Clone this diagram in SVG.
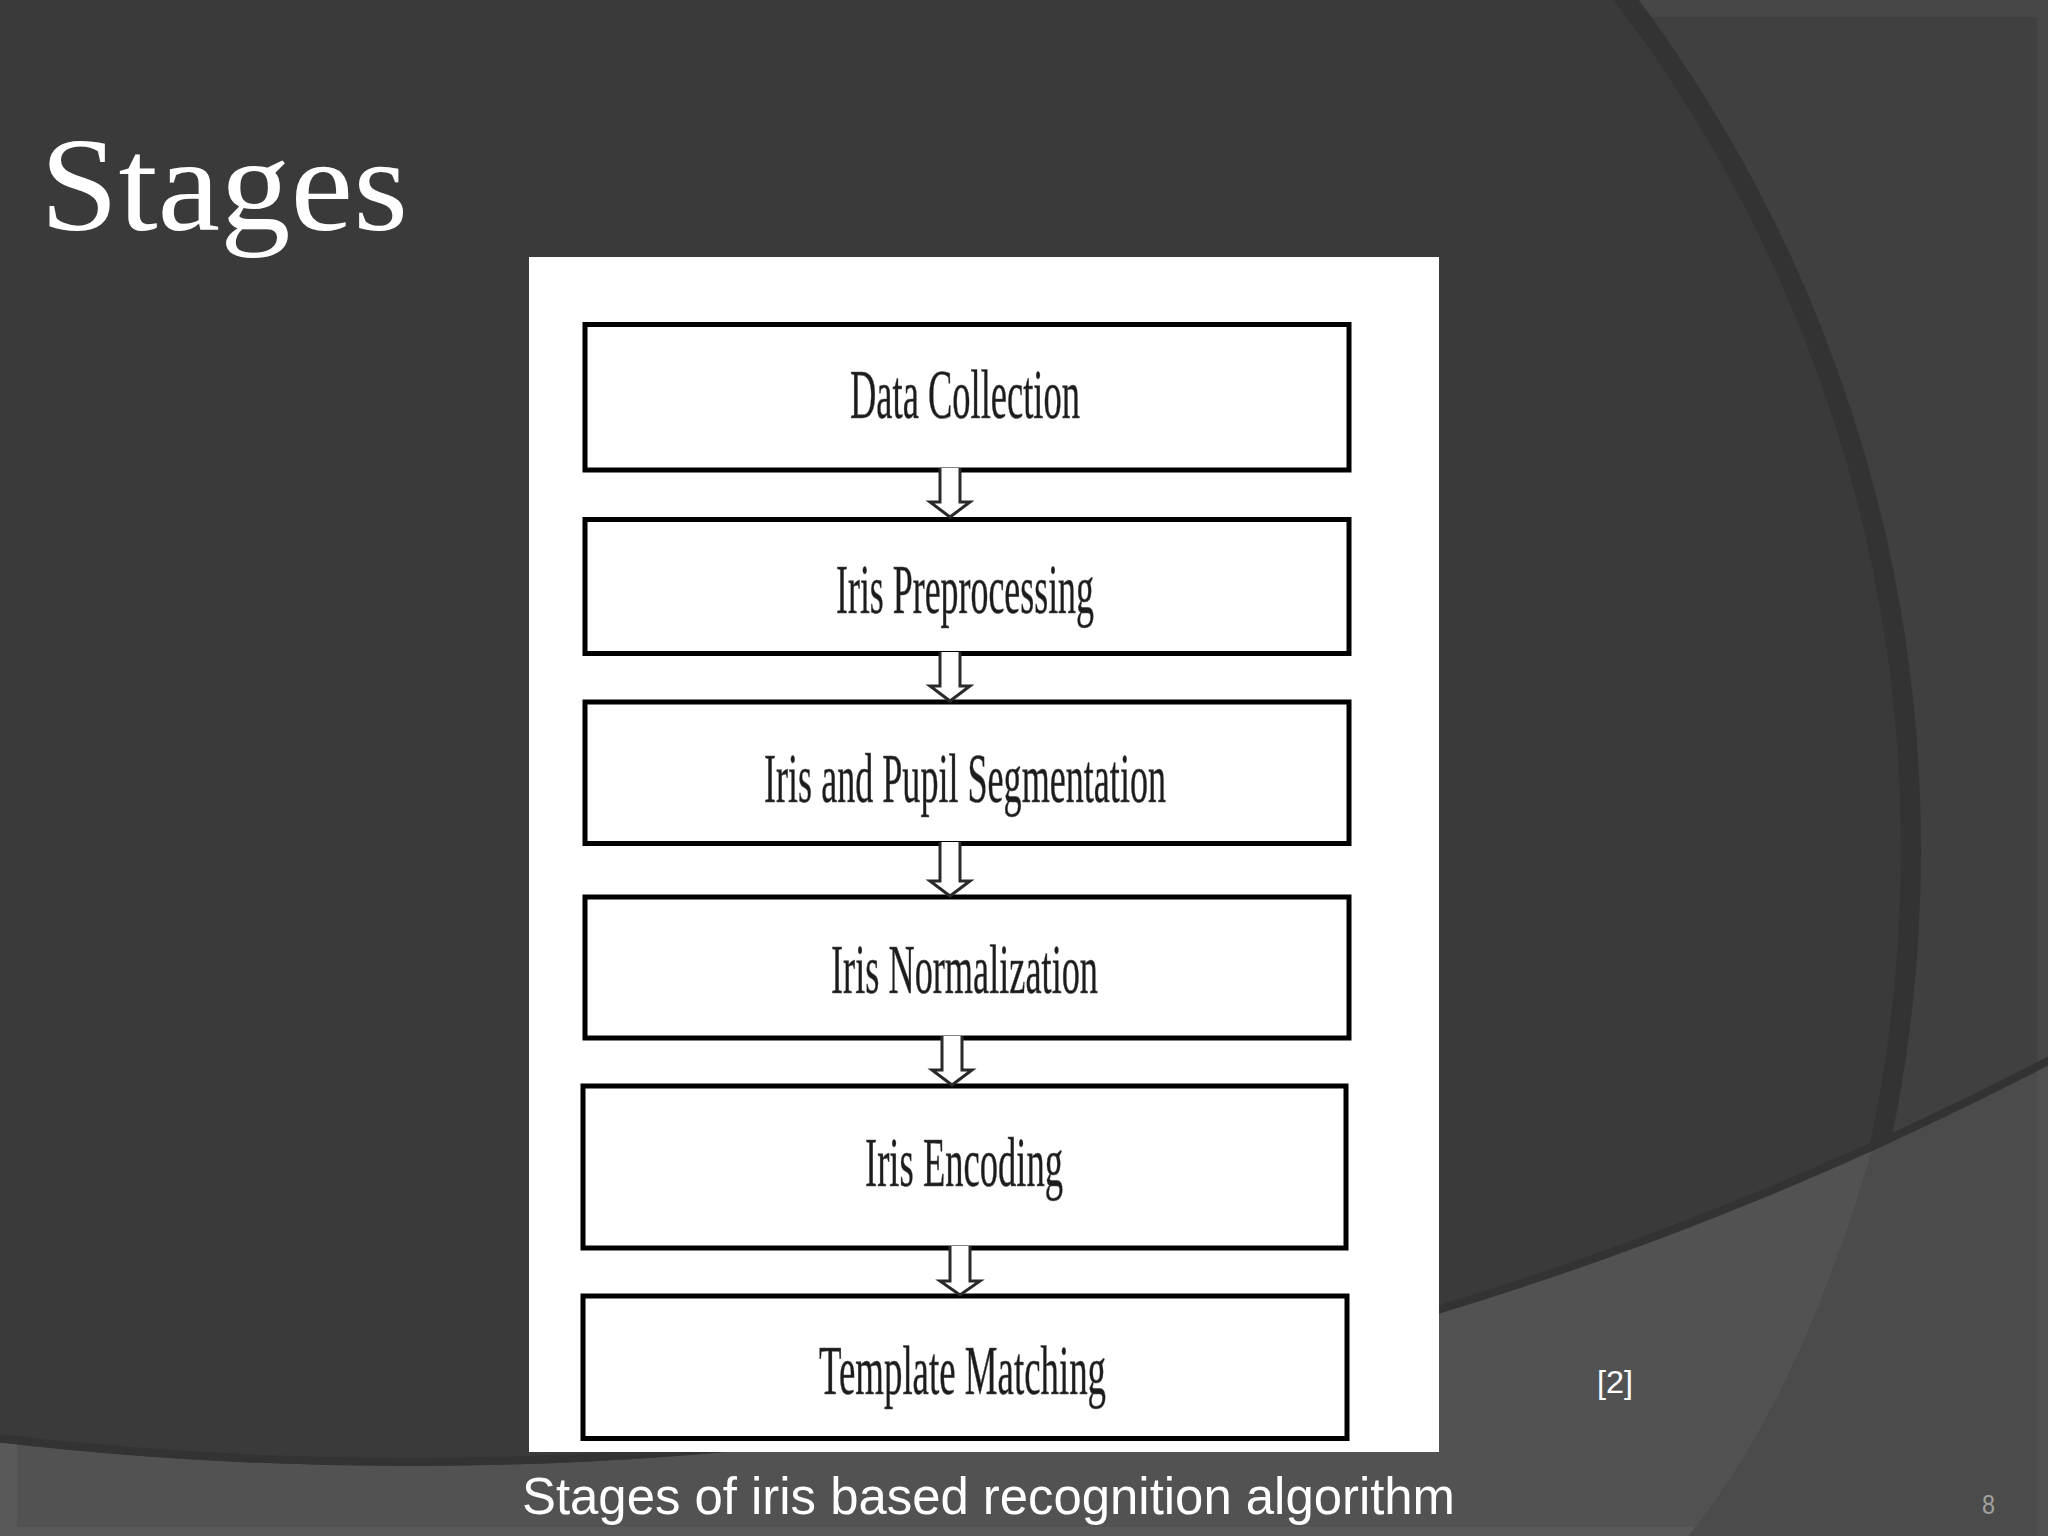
<svg xmlns="http://www.w3.org/2000/svg" width="2048" height="1536" viewBox="0 0 2048 1536">
  <defs>
    <clipPath id="bigC"><circle cx="409" cy="-2088" r="3554"/></clipPath>
    <style>
      .box { fill: #ffffff; stroke: #000000; stroke-width: 5; }
      .lbl { font-family: "Liberation Serif", "Times New Roman", serif; font-size: 70px; fill: #1c1c1c; stroke: #555555; stroke-width: 0.6; }
      .arr { fill: #ffffff; stroke: #2a2a2a; stroke-width: 3; stroke-linejoin: miter; }
      .cap { font-family: "Liberation Sans", Arial, sans-serif; fill: #ffffff; }
    </style>
  </defs>

  <!-- background -->
  <g id="background">
    <rect x="0" y="0" width="2048" height="1536" fill="#595959"/>
    <rect x="17" y="17" width="2020" height="1510" fill="#525252"/>
    <path d="M1874,1143 Q1800,1400 1688,1536 L2048,1536 L2048,1000 Z" fill="#4b4b4b"/>
    <rect x="2037" y="1060" width="11" height="476" fill="#505050"/>
    <g clip-path="url(#bigC)">
      <rect x="0" y="0" width="2048" height="1536" fill="#474747"/>
      <rect x="17" y="17" width="2020" height="1510" fill="#404040"/>
      <circle cx="500" cy="850" r="1411" fill="#3a3a3a" stroke="#333333" stroke-width="20"/>
      <circle cx="409" cy="-2088" r="3550" fill="none" stroke="#333333" stroke-width="8"/>
    </g>
  </g>

  <!-- title -->
  <text id="title" x="40" y="230" font-family="Liberation Serif, 'Times New Roman', serif" font-size="134" fill="#ffffff" textLength="368" lengthAdjust="spacingAndGlyphs">Stages</text>

  <!-- figure panel -->
  <rect id="panel" x="529" y="257" width="910" height="1195" fill="#ffffff"/>

  <g id="node-data-collection">
    <rect class="box" x="585" y="324.5" width="764" height="145.5"/>
    <text class="lbl" x="850" y="418" textLength="230" lengthAdjust="spacingAndGlyphs">Data Collection</text>
  </g>
  <g id="node-iris-preprocessing">
    <rect class="box" x="585" y="519.5" width="764" height="134"/>
    <text class="lbl" x="836" y="613" textLength="258" lengthAdjust="spacingAndGlyphs">Iris Preprocessing</text>
  </g>
  <g id="node-segmentation">
    <rect class="box" x="585" y="702" width="764" height="141.5"/>
    <text class="lbl" x="764" y="802" textLength="402" lengthAdjust="spacingAndGlyphs">Iris and Pupil Segmentation</text>
  </g>
  <g id="node-normalization">
    <rect class="box" x="585" y="897" width="764" height="141"/>
    <text class="lbl" x="831" y="993" textLength="267" lengthAdjust="spacingAndGlyphs">Iris Normalization</text>
  </g>
  <g id="node-encoding">
    <rect class="box" x="583" y="1086" width="763" height="162"/>
    <text class="lbl" x="865" y="1186" textLength="198" lengthAdjust="spacingAndGlyphs">Iris Encoding</text>
  </g>
  <g id="node-template-matching">
    <rect class="box" x="583" y="1296" width="764" height="142.5"/>
    <text class="lbl" x="819" y="1394" textLength="287" lengthAdjust="spacingAndGlyphs">Template Matching</text>
  </g>

  <g id="connectors">
    <path class="arr" d="M940,468 V502 H930 L950,517 L970,502 H960 V468"/>
    <path class="arr" d="M940,652 V686 H930 L950,701 L970,686 H960 V652"/>
    <path class="arr" d="M940,842 V881 H930 L950,896 L970,881 H960 V842"/>
    <path class="arr" d="M942,1036 V1070 H932 L952,1085 L972,1070 H962 V1036"/>
    <path class="arr" d="M950,1246 V1281 H940 L960,1295 L980,1281 H970 V1246"/>
  </g>

  <text id="caption" class="cap" x="522" y="1514" font-size="52" textLength="933" lengthAdjust="spacingAndGlyphs">Stages of iris based recognition algorithm</text>
  <text id="ref" class="cap" x="1597" y="1393" font-size="32" textLength="36" lengthAdjust="spacingAndGlyphs">[2]</text>
  <text id="page" x="1982" y="1514" font-family="Liberation Sans, Arial, sans-serif" font-size="28" fill="#a0a0a0" textLength="13" lengthAdjust="spacingAndGlyphs">8</text>
</svg>
